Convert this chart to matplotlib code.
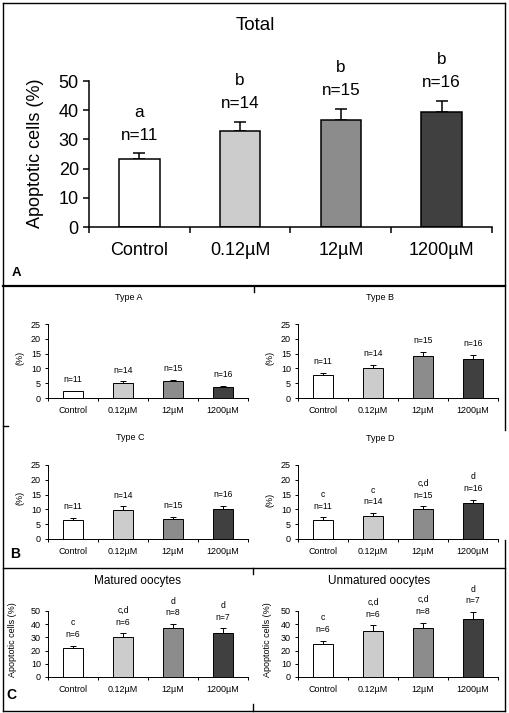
import matplotlib
matplotlib.use('Agg')
import matplotlib.pyplot as plt
from matplotlib.lines import Line2D

plt.rcParams['font.family'] = ['Liberation Sans', 'DejaVu Sans']

groups = ['Control', '0.12µM', '12µM', '1200µM']
bar_colors = ['#ffffff', '#cccccc', '#8c8c8c', '#404040']

# Panel A - total
total_mean = [23.2, 32.8, 36.6, 39.3]
total_err = [2.0, 3.2, 3.9, 3.9]
total_n = [11, 14, 15, 16]
total_letters = ['a', 'b', 'b', 'b']

# Panel B - types
type_n = [11, 14, 15, 16]
typeA_mean = [2.4, 5.1, 5.6, 3.8]
typeA_err = [0.1, 0.6, 0.6, 0.4]
typeB_mean = [7.7, 10.1, 14.1, 13.3]
typeB_err = [0.9, 1.2, 1.6, 1.3]
typeC_mean = [6.4, 9.9, 6.8, 10.1]
typeC_err = [0.8, 1.1, 0.7, 1.2]
typeD_mean = [6.5, 7.9, 10.2, 12.2]
typeD_err = [0.8, 0.9, 0.9, 1.1]
typeD_letters = ['c', 'c', 'c,d', 'd']

# Panel C - oocytes
mat_mean = [21.9, 30.2, 36.9, 33.2]
mat_err = [1.7, 3.0, 3.3, 3.7]
mat_n = [6, 6, 8, 7]
mat_letters = ['c', 'c,d', 'd', 'd']
unmat_mean = [24.9, 35.2, 37.2, 44.2]
unmat_err = [2.7, 4.0, 4.0, 5.0]
unmat_n = [6, 6, 8, 7]
unmat_letters = ['c', 'c,d', 'c,d', 'd']

W, H = 510, 713
fig = plt.figure(figsize=(W / 100, H / 100), dpi=100)


def rect(x0, yt, x1, yb):
    return [x0 / W, 1 - yb / H, (x1 - x0) / W, (yb - yt) / H]


def ftext(x, y, s, **kw):
    fig.text(x / W, 1 - y / H, s, ha='center', va='center', **kw)


def fline(xs, ys, lw=1.0):
    fig.add_artist(Line2D([x / W for x in xs], [1 - y / H for y in ys],
                          color='black', linewidth=lw, transform=fig.transFigure))


def panel(r, means, errs, ns, letters, ymax, step, fs, lw, cap, n_off, l_off,
          tlen, xpad, ypad):
    ax = fig.add_axes(rect(*r))
    x = list(range(len(groups)))
    ax.errorbar(x, means, yerr=[[0] * 4, errs], fmt='none', ecolor='black',
                elinewidth=lw, capsize=cap, capthick=lw, zorder=1)
    ax.bar(x, means, 0.4, color=bar_colors, edgecolor='black', linewidth=lw, zorder=2)
    ax.set_xlim(-0.5, 3.5)
    ax.set_ylim(0, ymax)
    ax.set_xticks(x)
    ax.set_xticklabels(groups, fontsize=fs)
    ax.set_xticks([-0.5, 0.5, 1.5, 2.5, 3.5], minor=True)
    ax.tick_params(axis='x', which='major', length=0, pad=xpad)
    ax.tick_params(axis='x', which='minor', length=tlen, width=lw, direction='out')
    ax.set_yticks(range(0, ymax + 1, step))
    ax.tick_params(axis='y', labelsize=fs, length=tlen, width=lw, direction='out', pad=ypad)
    for s in ['top', 'right']:
        ax.spines[s].set_visible(False)
    for s in ['left', 'bottom']:
        ax.spines[s].set_linewidth(lw)
    for i in x:
        top = means[i] + errs[i]
        ax.annotate(f'n={ns[i]}', (i, top), xytext=(0, n_off), textcoords='offset points',
                    ha='center', va='center', fontsize=fs * 0.95, annotation_clip=False)
        if letters:
            ax.annotate(letters[i], (i, top), xytext=(0, l_off), textcoords='offset points',
                        ha='center', va='center', fontsize=fs * 0.95, annotation_clip=False)
    return ax


# Panel A
panel((89, 81, 492, 227), total_mean, total_err, total_n, total_letters, 50, 10,
      13, 1.1, 4.5, 13, 29.5, 4.3, 11, 3)
ftext(36, 153, 'Apoptotic cells (%)', rotation=90, fontsize=13)
ftext(255, 25, 'Total', fontsize=13.5)
ftext(16, 273, 'A', fontsize=9.5, fontweight='bold')

# Panel B
small = dict(fs=6.5, lw=0.7, cap=2.2, n_off=8, l_off=16.5, tlen=2.5, xpad=5.5, ypad=2.5)
panel((48, 324, 248, 398), typeA_mean, typeA_err, type_n, None, 25, 5, **small)
panel((298, 324, 498, 398), typeB_mean, typeB_err, type_n, None, 25, 5, **small)
panel((48, 465, 248, 539), typeC_mean, typeC_err, type_n, None, 25, 5, **small)
panel((298, 465, 498, 539), typeD_mean, typeD_err, type_n, typeD_letters, 25, 5, **small)
for (tx, ty, t) in [(129, 297, 'Type A'), (380, 297, 'Type B'),
                    (130, 438, 'Type C'), (380, 439, 'Type D')]:
    ftext(tx, ty, t, fontsize=6.5)
for (lx, ly) in [(20, 358), (270, 358), (20, 498), (270, 500)]:
    ftext(lx, ly, '(%)', rotation=90, fontsize=6.5)
ftext(15, 554, 'B', fontsize=10, fontweight='bold')

# Panel C
panel((48, 611, 248, 677), mat_mean, mat_err, mat_n, mat_letters, 50, 10, **small)
panel((298, 611, 498, 677), unmat_mean, unmat_err, unmat_n, unmat_letters, 50, 10, **small)
ftext(138, 581, 'Matured oocytes', fontsize=8.5)
ftext(379, 581, 'Unmatured oocytes', fontsize=8.5)
ftext(13, 640, 'Apoptotic cells (%)', rotation=90, fontsize=6.5)
ftext(268, 640, 'Apoptotic cells (%)', rotation=90, fontsize=6.5)
ftext(11, 695, 'C', fontsize=10, fontweight='bold')

# frames
fline([3, 505], [3, 3])
fline([3, 3], [3, 711])
fline([505, 505], [3, 430])
fline([505, 505], [540, 711])
fline([3, 505], [286, 286], lw=1.6)
fline([3, 505], [568, 568])
fline([3, 505], [711, 711])
fline([254, 254], [287, 292])
fline([3, 8], [426, 426])
fline([253, 253], [568, 574])
fline([253, 253], [704, 711])

fig.savefig('out.png', dpi=100)
